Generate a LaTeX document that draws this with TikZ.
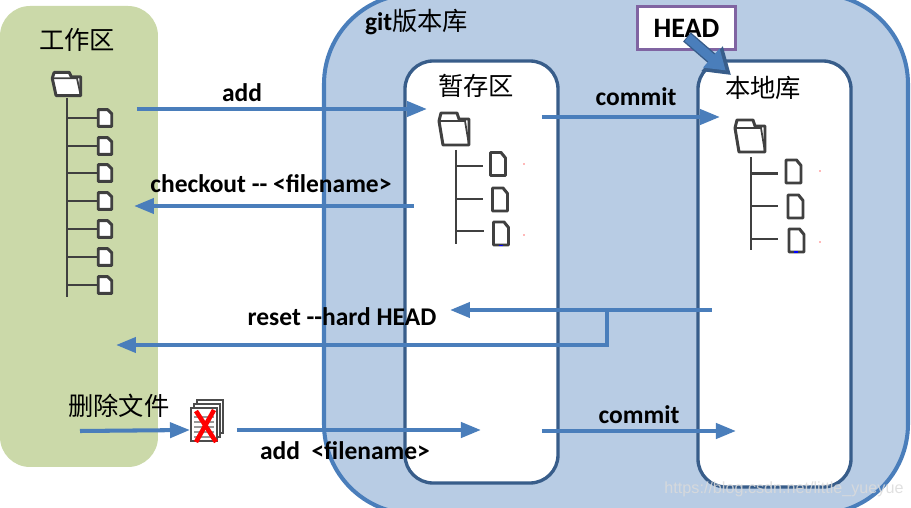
\documentclass[tikz,border=0pt]{standalone}
\usepackage{fontspec}
\setmainfont{Carlito}
\newfontfamily\cjk{Noto Sans CJK SC}
\newfontfamily\urlfont{Liberation Sans}
\usetikzlibrary{arrows.meta}
\definecolor{areagreen}{HTML}{CBD9A9}
\definecolor{repofill}{HTML}{B8CCE4}
\definecolor{repoline}{HTML}{4A7EBB}
\definecolor{boxline}{HTML}{385D8A}
\definecolor{headline}{HTML}{8064A2}
\definecolor{treegray}{HTML}{404040}
\begin{document}
\begin{tikzpicture}[line width=.6pt,
  flow/.style={draw=repoline,line width=1.15pt,-{Triangle[length=.2cm,width=.15cm]}},
  areabox/.style={draw=boxline,fill=white,line width=.95pt,rounded corners=.28cm},
  cmd/.style={font=\bfseries\fontsize{7.25}{8}\selectfont,inner sep=0pt},
  title/.style={font=\cjk\fontsize{7.2}{8}\selectfont,inner sep=0pt},
  treeline/.style={draw=treegray,line width=.8pt},
  folder/.pic={
    \draw[treegray,line width=.85pt,fill=white,line join=round]
      (-.15,.08) -- (-.13,.16) -- (.03,.16) -- (.05,.10) -- (.15,.10) -- (.15,-.16) -- (-.11,-.16) -- cycle;
    \draw[treegray,line width=.5pt] (-.15,.08) -- (.11,.08) -- (.15,-.16);
  },
  docfile/.pic={
    \draw[treegray,line width=.85pt,fill=white,line join=round]
      (-.075,.115) -- (.03,.115) -- (.075,.06) -- (.075,-.115) -- (-.075,-.115) -- cycle;
  }]
\useasboundingbox (0,0) rectangle (9.11,-5.08);
\clip (0,0) rectangle (9.11,-5.08);

\fill[areagreen,rounded corners=.3cm] (0,-.06) rectangle (1.58,-4.67);
\draw[repoline,fill=repofill,line width=1.15pt,rounded corners=.9cm] (3.24,.06) rectangle (9.08,-5.14);
\draw[areabox] (4.05,-.61) rectangle (5.58,-4.83);
\draw[areabox] (6.98,-.61) rectangle (8.51,-4.87);

\node[title] (worktitle) at (.77,-.40) {工作区};
\node[title] (stagetitle) at (4.76,-.86) {暂存区};
\node[title] (localtitle) at (7.63,-.88) {本地库};
\node[title,right] (repotitle) at (3.64,-.22) {{\normalfont\bfseries\fontsize{7.25}{8}\selectfont git}版本库};
\node[title] (deltitle) at (1.19,-4.06) {删除文件};

\pic[xscale=.95,yscale=.72] at (.665,-.84) {folder};
\draw[treeline] (.67,-.98) -- (.67,-2.97);
\foreach \y in {1.18,1.46,1.73,2.01,2.29,2.57,2.85}{
  \draw[treeline] (.67,-\y) -- (.98,-\y);
  \pic[xscale=.9,yscale=.72] at (1.05,-\y) {docfile};
}

\pic at (4.54,-1.29) {folder};
\draw[treeline] (4.56,-1.50) -- (4.56,-2.44);
\draw[treeline] (4.56,-1.66) -- (4.83,-1.66);
\draw[treeline] (4.56,-1.99) -- (4.83,-1.99);
\draw[treeline] (4.56,-2.31) -- (4.84,-2.31);
\pic at (4.98,-1.64) {docfile};
\pic at (5.00,-1.995) {docfile};
\pic at (5.01,-2.335) {docfile};

\pic at (7.50,-1.36) {folder};
\draw[treeline] (7.51,-1.57) -- (7.51,-2.50);
\draw[treeline] (7.51,-1.735) -- (7.78,-1.735);
\draw[treeline] (7.51,-2.06) -- (7.78,-2.06);
\draw[treeline] (7.51,-2.39) -- (7.78,-2.39);
\pic at (7.935,-1.715) {docfile};
\pic at (7.955,-2.065) {docfile};
\pic at (7.965,-2.405) {docfile};

\foreach \x/\y in {5.24/1.64,5.24/2.35,8.20/1.71,8.20/2.42}
  \fill[red!55] (\x,-\y) circle (.008);
\fill[blue] (4.99,-2.46) rectangle (5.03,-2.445);
\fill[blue] (7.945,-2.53) rectangle (7.985,-2.515);

\node[cmd] (addlabel) at (2.42,-.93) {add};
\node[cmd] (commitlabel) at (6.36,-.97) {commit};
\node[cmd] (checkoutlabel) at (2.71,-1.84) {checkout -{}- <filename>};
\node[cmd] (resetlabel) at (3.42,-3.17) {reset -{}-hard HEAD};
\node[cmd] (addfilelabel) at (3.45,-4.51) {add\ \ <filename>};
\node[cmd] (commitlabelb) at (6.39,-4.15) {commit};

\coordinate (addfrom) at (1.37,-1.09);
\coordinate (addto) at (4.27,-1.09);
\coordinate (checkfrom) at (4.14,-2.06);
\coordinate (checkto) at (1.34,-2.06);
\coordinate (commitfrom) at (5.42,-1.17);
\coordinate (committo) at (7.20,-1.17);
\coordinate (resetfrom) at (7.12,-3.10);
\coordinate (resetto) at (4.50,-3.10);
\coordinate (resetfork) at (6.07,-3.10);
\coordinate (resetbend) at (6.07,-3.45);
\coordinate (resetwork) at (1.16,-3.45);
\coordinate (delfrom) at (.80,-4.31);
\coordinate (delto) at (1.90,-4.30);
\coordinate (stagefrom) at (2.37,-4.30);
\coordinate (stageto) at (4.81,-4.30);
\coordinate (commitfromb) at (5.42,-4.31);
\coordinate (committob) at (7.36,-4.31);

\draw[flow] (addfrom) -- (addto);
\draw[flow] (checkfrom) -- (checkto);
\draw[flow] (commitfrom) -- (committo);
\draw[flow] (resetfrom) -- (resetto);
\draw[flow] (resetfork) -- (resetbend) -- (resetwork);
\draw[flow] (delfrom) -- (delto);
\draw[flow] (stagefrom) -- (stageto);
\draw[flow] (commitfromb) -- (committob);

\node[draw=headline,fill=white,line width=.95pt,minimum width=.98cm,minimum height=.43cm,inner sep=0pt,font=\bfseries\fontsize{8}{9}\selectfont] (headbox) at (6.865,-.28) {HEAD\hspace{.19cm}};
\coordinate (headfrom) at (6.87,-.37);
\coordinate (headto) at (7.31,-.75);
\draw[boxline,line width=3.4pt,-{Triangle[length=.25cm,width=.31cm]}] (headfrom) -- (headto);
\draw[repoline,line width=2.6pt,shorten >=.07cm,shorten <=.01cm,-{Triangle[length=.19cm,width=.24cm]}] (headfrom) -- (headto);

\foreach \dx/\dy in {.06/0,.03/.04,0/.08}
  \draw[black!70,fill=white,line width=.3pt] (1.91+\dx,-4.00-\dy) rectangle (2.17+\dx,-4.33-\dy);
\foreach \y in {4.17,4.22,4.27,4.32,4.37}
  \draw[black!40,line width=.3pt] (1.94,-\y) -- (2.14,-\y);
\draw[red,line width=1.3pt] (1.96,-4.11) -- (2.16,-4.42);
\draw[red,line width=1.3pt] (2.14,-4.10) -- (1.96,-4.42);

\node[text=black!14,opacity=.85,font=\urlfont\fontsize{4.6}{6}\selectfont,inner sep=0pt] (urlmark) at (7.84,-4.89) {https://blog.csdn.net/little\_yueyue};
\end{tikzpicture}
\end{document}
